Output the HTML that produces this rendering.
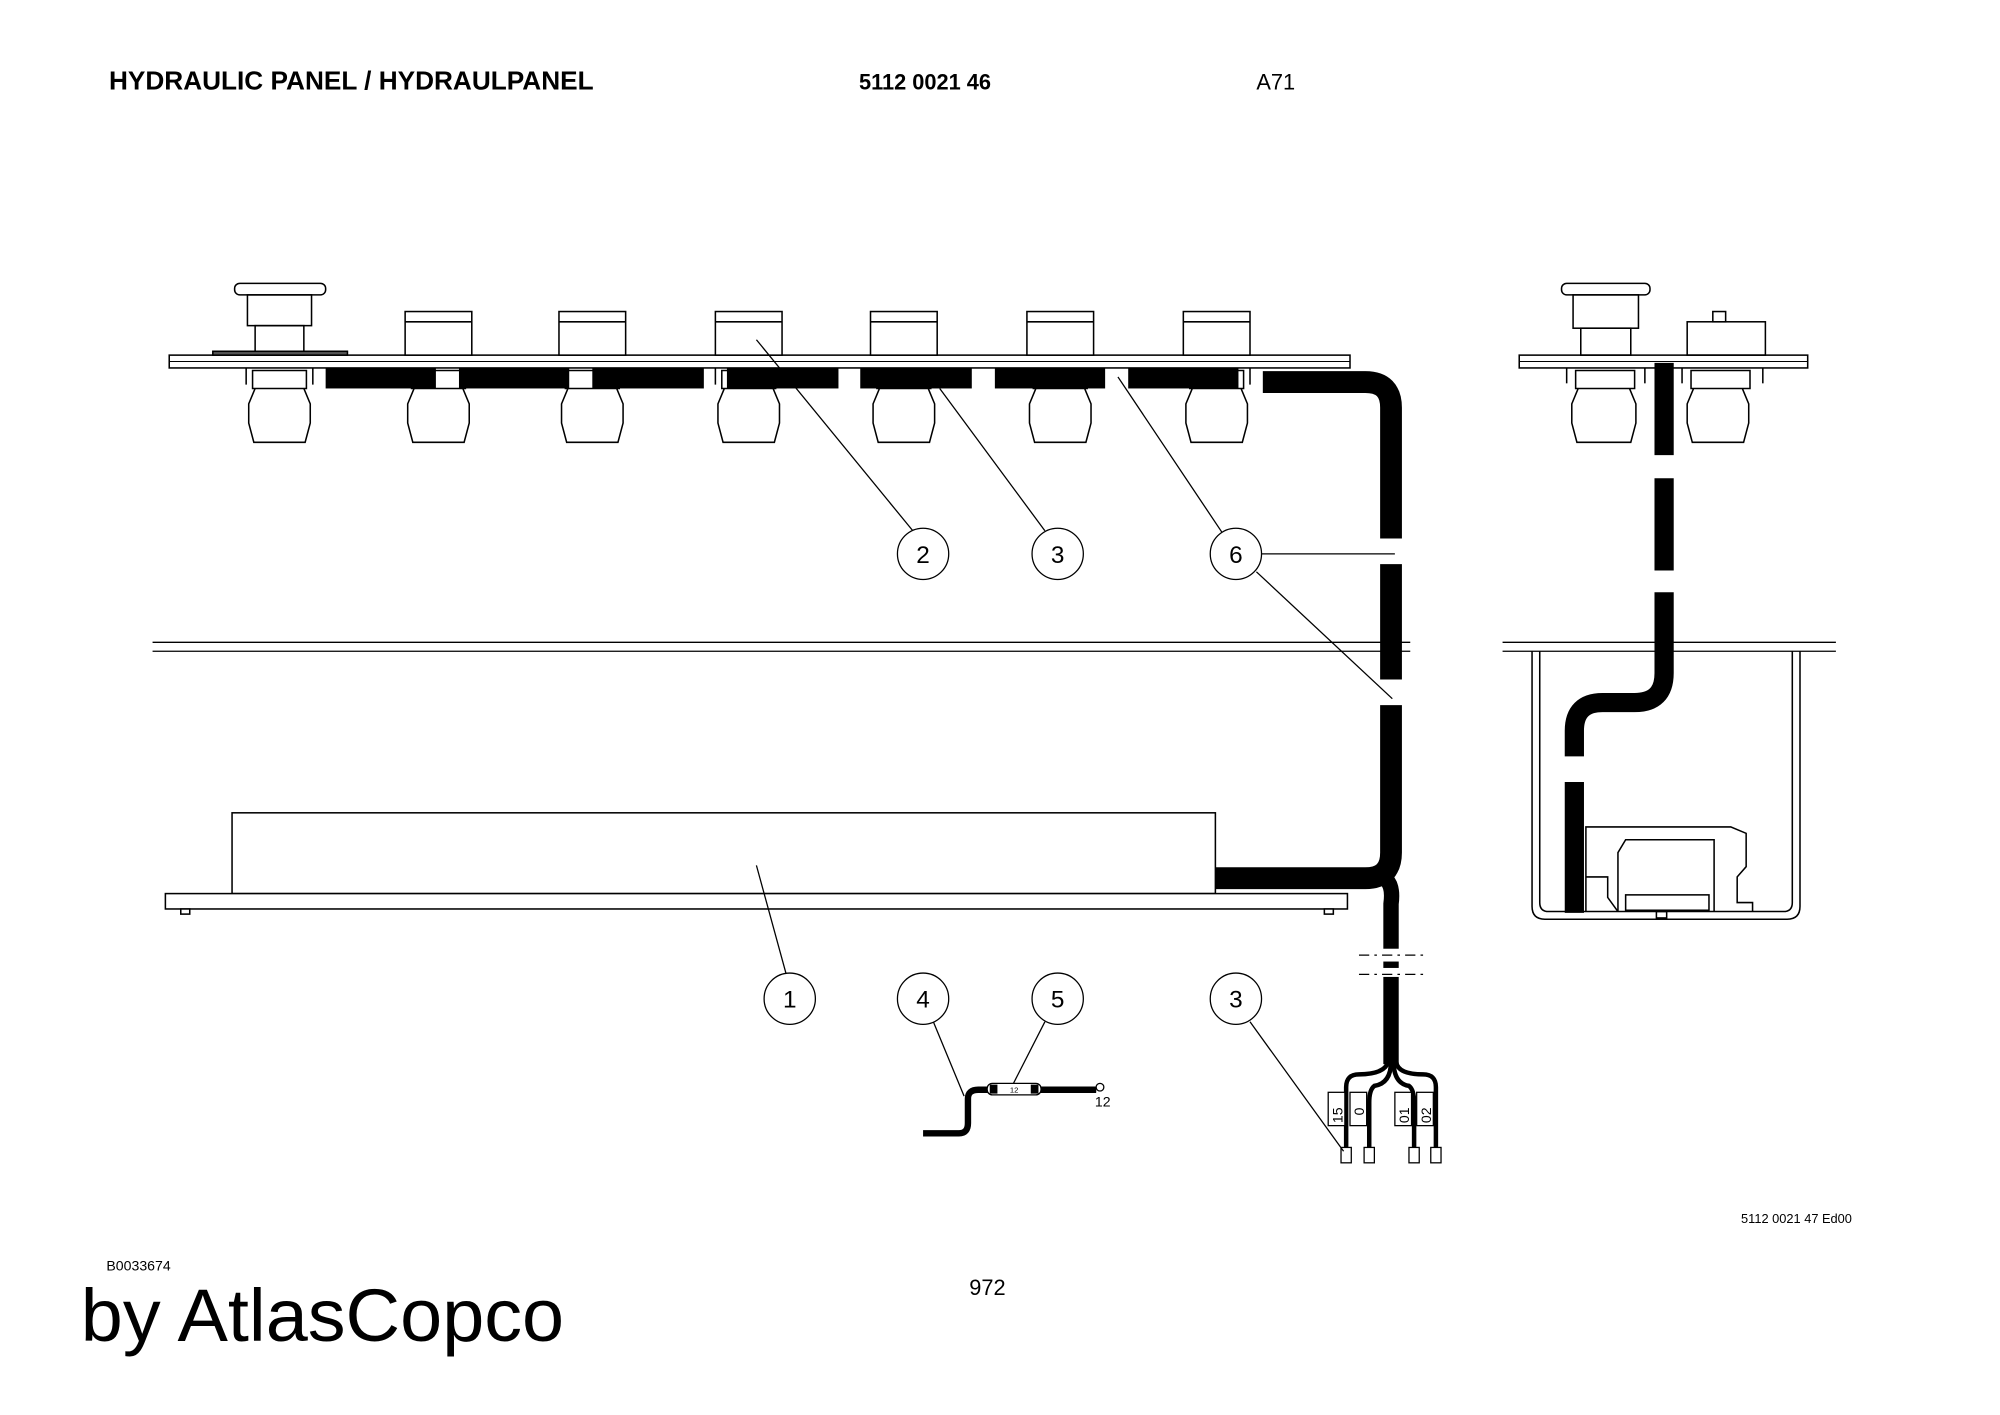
<!DOCTYPE html>
<html><head><meta charset="utf-8"><style>
html,body{margin:0;padding:0;background:#fff}
svg{display:block}
text{font-family:"Liberation Sans",Arial,sans-serif}
</style></head><body>
<svg width="2000" height="1415" viewBox="0 0 1560 1103.7" preserveAspectRatio="none" xmlns="http://www.w3.org/2000/svg">
<rect width="1560" height="1104" fill="#fff"/>
<g fill="#000">
<text x="85" y="70" font-size="20" font-weight="bold" textLength="378" lengthAdjust="spacingAndGlyphs">HYDRAULIC PANEL / HYDRAULPANEL</text>
<text x="670" y="70" font-size="17" font-weight="bold">5112 0021 46</text>
<text x="980" y="70" font-size="17">A71</text>
<text x="1358" y="954" font-size="10">5112 0021 47 Ed00</text>
<text x="83" y="991" font-size="11">B0033674</text>
<text x="756" y="1010" font-size="17">972</text>
<text x="63" y="1046" font-size="58" textLength="377" lengthAdjust="spacingAndGlyphs">by AtlasCopco</text>
</g>

<g fill="none" stroke="#000" stroke-width="1.2">
<rect x="132" y="277" width="921" height="10" fill="#fff"/>
<line x1="132" y1="282" x2="1053" y2="282" stroke-width="0.8"/>
<rect x="183" y="221" width="71" height="9" rx="4"/>
<rect x="193" y="230" width="50" height="24"/>
<rect x="199" y="254" width="38" height="23"/>
<rect x="166" y="274" width="105" height="3" fill="#555"/>
<g id="btn">
<rect x="316" y="243" width="52" height="34" fill="#fff"/>
<line x1="316" y1="251" x2="368" y2="251"/>
</g>
<use href="#btn" x="120"/><use href="#btn" x="242"/><use href="#btn" x="363"/><use href="#btn" x="485"/><use href="#btn" x="607"/>
<g id="knob">
<path d="M197 289 h42 v14 h-42 z M199 303 l-5 12 v15 l4 15 h40 l4 -15 v-15 l-5 -12" fill="#fff"/>
<line x1="192" y1="287" x2="192" y2="300"/><line x1="244" y1="287" x2="244" y2="300"/>
</g>
<use href="#knob" x="124"/><use href="#knob" x="244"/><use href="#knob" x="366"/><use href="#knob" x="487"/><use href="#knob" x="609"/><use href="#knob" x="731"/>
</g>
<g fill="#000">
<rect x="254" y="287" width="86" height="16"/>
<rect x="358" y="287" width="86" height="16"/>
<rect x="462" y="287" width="87" height="16"/>
<rect x="567" y="287" width="87" height="16"/>
<rect x="671" y="287" width="87" height="16"/>
<rect x="776" y="287" width="86" height="16"/>
<rect x="880" y="287" width="86" height="16"/>
</g>
<g fill="none" stroke="#000" stroke-width="17">
<path d="M985 298 H1065 Q1085 298 1085 318 V420"/>
<path d="M1085 440 V530"/>
<path d="M1085 550 V665 Q1085 685 1065 685 H948"/>
</g>
<path d="M1080 685 Q1087 690 1085 705 V830" fill="none" stroke="#000" stroke-width="12"/>
<rect x="1060" y="740" width="50" height="22" fill="#fff"/>
<g stroke="#000" stroke-width="1" stroke-dasharray="8 4 2 4">
<line x1="1060" y1="745" x2="1112" y2="745"/><line x1="1060" y1="760" x2="1112" y2="760"/>
</g>
<path d="M1085 750 V755" stroke="#000" stroke-width="12"/>
<g fill="none" stroke="#000" stroke-width="3.5">
<path d="M1083 828 Q1080 838 1060 838 Q1050 838 1050 848 V895"/>
<path d="M1085 828 Q1085 845 1072 847 Q1068 850 1068 860 V895"/>
<path d="M1087 828 Q1087 845 1099 847 Q1103 850 1103 860 V895"/>
<path d="M1089 828 Q1090 838 1110 838 Q1120 838 1120 848 V895"/>
</g>
<g fill="#fff" stroke="#000" stroke-width="1">
<rect x="1046" y="895" width="8" height="12"/><rect x="1064" y="895" width="8" height="12"/>
<rect x="1099" y="895" width="8" height="12"/><rect x="1116" y="895" width="8" height="12"/>
<rect x="1036" y="852" width="13" height="26"/><rect x="1053" y="852" width="13" height="26"/>
<rect x="1088" y="852" width="13" height="26"/><rect x="1105" y="852" width="13" height="26"/>
</g>
<g font-size="11" fill="#000">
<text transform="translate(1047,876) rotate(-90)">15</text>
<text transform="translate(1064,870) rotate(-90)">0</text>
<text transform="translate(1099,876) rotate(-90)">01</text>
<text transform="translate(1116,876) rotate(-90)">02</text>
</g>

<g stroke="#000" stroke-width="1">
<line x1="119" y1="501" x2="1100" y2="501"/><line x1="119" y1="508" x2="1100" y2="508"/>
<line x1="1172" y1="501" x2="1432" y2="501"/><line x1="1172" y1="508" x2="1432" y2="508"/>
</g>

<g fill="#fff" stroke="#000" stroke-width="1.2">
<rect x="181" y="634" width="767" height="63"/>
<rect x="129" y="697" width="922" height="12"/>
<rect x="141" y="709" width="7" height="4"/><rect x="1033" y="709" width="7" height="4"/>
</g>

<g stroke="#000" stroke-width="1" fill="none">
<line x1="712" y1="414" x2="590" y2="265"/>
<line x1="815" y1="414" x2="733" y2="303"/>
<line x1="953" y1="415" x2="872" y2="294"/>
<line x1="984" y1="432" x2="1088" y2="432"/>
<line x1="980" y1="446" x2="1086" y2="545"/>
<line x1="613" y1="759" x2="590" y2="675"/>
<line x1="728" y1="797" x2="752" y2="855"/>
<line x1="815" y1="797" x2="790" y2="846"/>
<line x1="975" y1="797" x2="1048" y2="898"/>
</g>
<g fill="#fff" stroke="#000" stroke-width="1">
<circle cx="720" cy="432" r="20"/><circle cx="825" cy="432" r="20"/><circle cx="964" cy="432" r="20"/>
<circle cx="616" cy="779" r="20"/><circle cx="720" cy="779" r="20"/><circle cx="825" cy="779" r="20"/><circle cx="964" cy="779" r="20"/>
</g>
<g font-size="19" fill="#000" text-anchor="middle">
<text x="720" y="439">2</text><text x="825" y="439">3</text><text x="964" y="439">6</text>
<text x="616" y="786">1</text><text x="720" y="786">4</text><text x="825" y="786">5</text><text x="964" y="786">3</text>
</g>

<path d="M720 884 H748 Q755 884 755 876 V857 Q755 850 763 850 H855" fill="none" stroke="#000" stroke-width="5"/>
<path d="M810 850 H855" stroke="#000" stroke-width="3"/>
<rect x="770" y="845" width="42" height="9" rx="4" fill="#fff" stroke="#000" stroke-width="1"/>
<rect x="772" y="846" width="6" height="7" fill="#000"/><rect x="804" y="846" width="6" height="7" fill="#000"/>
<text x="791" y="852" font-size="6" text-anchor="middle">12</text>
<circle cx="858" cy="848" r="3" fill="#fff" stroke="#000"/>
<text x="854" y="863" font-size="11">12</text>

<g fill="none" stroke="#000" stroke-width="1.2">
<rect x="1185" y="277" width="225" height="10" fill="#fff"/>
<line x1="1185" y1="282" x2="1410" y2="282" stroke-width="0.8"/>
<rect x="1218" y="221" width="69" height="9" rx="4"/>
<rect x="1227" y="230" width="51" height="26"/>
<rect x="1233" y="256" width="39" height="21"/>
<rect x="1316" y="251" width="61" height="26"/>
<rect x="1336" y="243" width="10" height="8"/>
<path d="M1229 289 h46 v14 h-46 z M1231 303 l-5 12 v15 l4 15 h42 l4 -15 v-15 l-5 -12" fill="#fff"/>
<path d="M1319 289 h46 v14 h-46 z M1321 303 l-5 12 v15 l4 15 h40 l4 -15 v-15 l-5 -12" fill="#fff"/>
<line x1="1222" y1="287" x2="1222" y2="299"/><line x1="1283" y1="287" x2="1283" y2="299"/>
<line x1="1312" y1="287" x2="1312" y2="299"/><line x1="1375" y1="287" x2="1375" y2="299"/>
<path d="M1195 508 V707 Q1195 717 1205 717 H1394 Q1404 717 1404 707 V508"/>
<path d="M1201 508 V704 Q1201 711 1208 711 H1391 Q1398 711 1398 704 V508"/>
<path d="M1237 711 V645 H1350 L1362 650 V676 L1355 684 V704 H1367 V711"/>
<path d="M1262 711 V665 L1268 655 H1337 V711"/>
<path d="M1237 684 H1254 V700 L1262 711"/>
<rect x="1268" y="698" width="65" height="12"/>
<rect x="1292" y="711" width="8" height="5"/>
</g>
<g fill="none" stroke="#000" stroke-width="15">
<path d="M1298 283 V355"/><path d="M1298 373 V445"/>
<path d="M1298 462 V525 Q1298 548 1275 548 H1250 Q1228 548 1228 570 V590"/>
<path d="M1228 610 V712"/>
</g>
</svg>
</body></html>
